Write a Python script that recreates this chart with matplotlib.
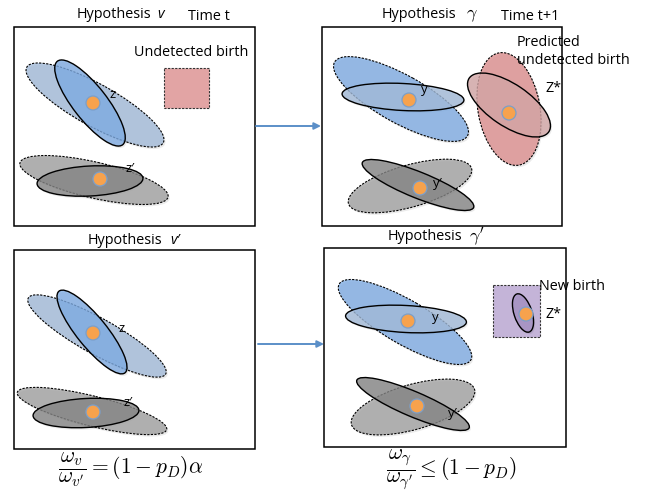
import matplotlib
matplotlib.use("Agg")
import matplotlib.pyplot as plt
from matplotlib.colors import to_rgba
from matplotlib.patches import Ellipse, Circle, Rectangle

plt.rcParams['font.family'] = ['Open Sans', 'DejaVu Sans']
plt.rcParams['mathtext.fontset'] = 'cm'

# the four hypothesis boxes, in pixels: left, top, right, bottom
box_left = [14, 322, 14, 324]
box_top = [27, 27, 250, 248]
box_right = [255, 562, 255, 566]
box_bottom = [226, 226, 449, 447]

# ellipses (centre x, centre y, width, height, angle, colour, dashed edge)
ell_x = [95, 90, 94, 90,
         401, 403, 509, 509, 410, 418,
         97, 92, 92, 86,
         405, 406, 413, 413, 523]
ell_y = [105, 103, 180, 181,
         99, 97, 109, 105, 186, 185,
         336, 332, 411, 413,
         322, 319, 407, 404, 313]
ell_w = [156, 106, 152, 106,
         152, 122, 114, 96, 128, 120,
         157, 105, 154, 106,
         152, 121, 128, 122, 40]
ell_h = [42, 34, 36, 30,
         48, 27, 62, 42, 42, 26,
         36, 30, 30, 29,
         44, 27, 45, 25, 18]
ell_ang = [29, 52, 13, -3,
           29, 3, 80, 34, -16, 22,
           29, 51, 14, -3,
           30, 3, -16, 23, 72]
ell_col = ['blue_light', 'blue', 'gray_light', 'gray',
           'blue', 'blue_light', 'red', 'red_light', 'gray_light', 'gray',
           'blue_light', 'blue', 'gray_light', 'gray',
           'blue', 'blue_light', 'gray_light', 'gray', 'purple']
ell_dash = [True, False, True, False,
            True, False, True, False, True, False,
            True, False, True, False,
            True, False, True, False, False]

# orange target dots
dot_x = [93, 100, 409, 509, 420, 93, 93, 408, 417, 526]
dot_y = [103, 179, 100, 113, 188, 333, 412, 321, 406, 314]

# measurement labels
lab_txt = ['z', 'z\u2032', 'y', 'y\u2032', 'z', 'z\u2032', 'y', 'y\u2032']
lab_x = [113, 130, 424, 438, 122, 128, 435, 453]
lab_y = [94, 168, 90, 183, 328, 403, 318, 413]

colours = {
    'blue_light': '#a2bad8',
    'blue': '#7eabe2',
    'gray_light': '#a1a1a1',
    'gray': '#858585',
    'red': '#db8d8d',
    'red_light': '#d3a6a6',
    'purple': '#a592c4',
}

fig = plt.figure(figsize=(6.55, 4.93), dpi=100)
ax = fig.add_axes([0, 0, 1, 1])
ax.set_xlim(0, 655)
ax.set_ylim(493, 0)
ax.axis('off')

for i in range(len(box_left)):
    ax.add_patch(Rectangle((box_left[i], box_top[i]), box_right[i] - box_left[i],
                           box_bottom[i] - box_top[i], facecolor='white',
                           edgecolor='black', lw=1.1, zorder=1))

dash = (0, (2, 1.2))

# birth regions
ax.add_patch(Rectangle((164, 68), 45, 40, facecolor='#e2a4a4', edgecolor='#333333',
                       lw=0.8, ls=dash, zorder=2))
ax.add_patch(Rectangle((493, 285), 47, 52, facecolor='#c4b4d8', edgecolor='#333333',
                       lw=0.8, ls=dash, zorder=2))

# soft shadows under the ellipses
for i in range(len(ell_x)):
    ax.add_patch(Ellipse((ell_x[i] + 1.5, ell_y[i] + 2), ell_w[i], ell_h[i], angle=ell_ang[i],
                         facecolor=to_rgba('#000000', 0.08), edgecolor='none', zorder=2.5))

for i in range(len(ell_x)):
    ls = dash if ell_dash[i] else '-'
    lw = 0.8 if ell_dash[i] else 1.0
    ax.add_patch(Ellipse((ell_x[i], ell_y[i]), ell_w[i], ell_h[i], angle=ell_ang[i],
                         facecolor=to_rgba(colours[ell_col[i]], 0.8), edgecolor='black',
                         lw=lw, ls=ls, zorder=3 + i * 0.01))

for x, y in zip(dot_x, dot_y):
    ax.add_patch(Circle((x, y), 7, facecolor='#f7a24d', edgecolor='#7a9fcb', lw=0.9, zorder=5))

for t, x, y in zip(lab_txt, lab_x, lab_y):
    ax.text(x, y, t, fontsize=9.5, ha='center', va='center', zorder=6)

fs = 10.4
ax.text(77, 15, 'Hypothesis', fontsize=fs, va='center')
ax.text(157, 15, 'v', fontsize=fs, va='center', style='italic')
ax.text(188, 16, 'Time t', fontsize=fs, va='center')
ax.text(134, 53, 'Undetected birth', fontsize=fs, va='center')

ax.text(382, 15, 'Hypothesis', fontsize=fs, va='center')
ax.text(466, 15, r'$\gamma$', fontsize=13, va='center')
ax.text(501, 16, 'Time t+1', fontsize=fs, va='center')
ax.text(517, 42, 'Predicted', fontsize=fs, va='center', zorder=6)
ax.text(517, 61, 'undetected birth', fontsize=fs, va='center', zorder=6)
ax.text(545, 89, 'Z*', fontsize=fs, va='center', zorder=6)

ax.text(88, 240, 'Hypothesis', fontsize=fs, va='center')
ax.text(170, 240, 'v\u2032', fontsize=fs, va='center', style='italic')
ax.text(388, 237, 'Hypothesis', fontsize=fs, va='center')
ax.text(469, 237, r"$\gamma'$", fontsize=13, va='center')
ax.text(539, 287, 'New birth', fontsize=fs, va='center', zorder=6)
ax.text(545, 314, 'Z*', fontsize=fs, va='center', zorder=6)

ax.text(131, 470, r"$\dfrac{\omega_v}{\omega_{v'}} = (1-p_D)\alpha$", fontsize=15.5,
        ha='center', va='center')
ax.text(451, 470, r"$\dfrac{\omega_\gamma}{\omega_{\gamma'}} \leq (1-p_D)$", fontsize=15.5,
        ha='center', va='center')

arrow = dict(arrowstyle='-|>', color='#5b8fc8', lw=1.4, mutation_scale=10,
             shrinkA=0, shrinkB=0)
ax.annotate('', xy=(321, 126), xytext=(256, 126), arrowprops=arrow)
ax.annotate('', xy=(324, 344), xytext=(258, 344), arrowprops=arrow)

fig.savefig('out.png', dpi=100)
